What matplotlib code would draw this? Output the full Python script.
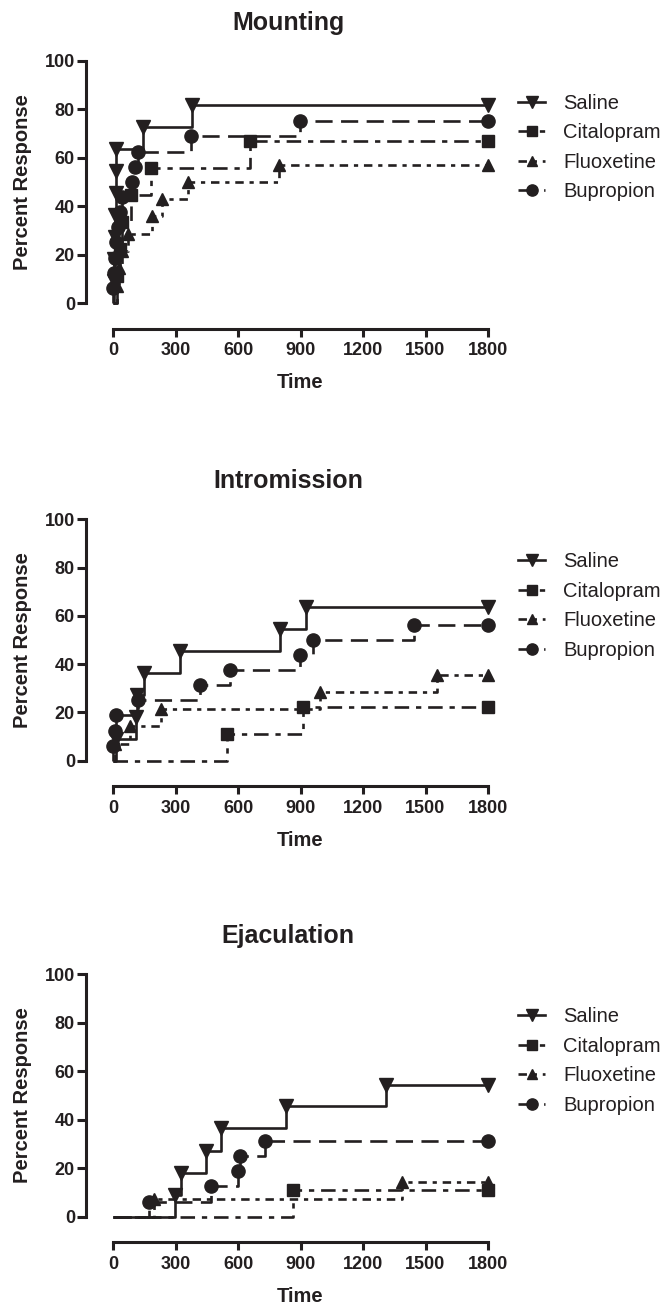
import matplotlib
matplotlib.use("Agg")
import matplotlib.pyplot as plt

plt.rcParams['font.family'] = ['Liberation Sans', 'DejaVu Sans']

INK = '#231f20'

groups = ["Saline", "Citalopram", "Fluoxetine", "Bupropion"]
panel_titles = ["Mounting", "Intromission", "Ejaculation"]
x_ticks = [0, 300, 600, 900, 1200, 1500, 1800]
y_ticks = [0, 20, 40, 60, 80, 100]
t_end = 1800

# Mounting: event times (s) and cumulative percent responding
mount_saline_t = [4, 6, 8, 10, 12, 13, 15, 144, 381]
mount_saline_p = [9.1, 18.2, 27.3, 36.4, 45.5, 54.5, 63.6, 72.7, 81.8]
mount_cital_t = [20, 35, 45, 88, 182, 656]
mount_cital_p = [11.1, 22.2, 33.3, 44.4, 55.6, 66.7]
mount_fluox_t = [18, 28, 45, 73, 186, 236, 362, 795]
mount_fluox_p = [7.1, 14.3, 21.4, 28.6, 35.7, 42.9, 50.0, 57.1]
mount_bupro_t = [2, 5, 8, 14, 25, 35, 45, 92, 104, 118, 372, 897]
mount_bupro_p = [6.25, 12.5, 18.75, 25.0, 31.25, 37.5, 43.75, 50.0, 56.25, 62.5, 68.75, 75.0]

# Intromission
intro_saline_t = [12, 110, 115, 148, 322, 803, 928]
intro_saline_p = [9.1, 18.2, 27.3, 36.4, 45.5, 54.5, 63.6]
intro_cital_t = [545, 914]
intro_cital_p = [11.1, 22.2]
intro_fluox_t = [10, 80, 232, 994, 1555]
intro_fluox_p = [7.1, 14.3, 21.4, 28.6, 35.7]
intro_bupro_t = [2, 8, 16, 120, 417, 561, 898, 959, 1443]
intro_bupro_p = [6.25, 12.5, 18.75, 25.0, 31.25, 37.5, 43.75, 50.0, 56.25]

# Ejaculation
ejac_saline_t = [296, 325, 448, 517, 832, 1309]
ejac_saline_p = [9.1, 18.2, 27.3, 36.4, 45.5, 54.5]
ejac_cital_t = [862]
ejac_cital_p = [11.1]
ejac_fluox_t = [195, 1387]
ejac_fluox_p = [7.1, 14.3]
ejac_bupro_t = [173, 472, 600, 608, 731]
ejac_bupro_p = [6.25, 12.5, 18.75, 25.0, 31.25]

panels = [
    [(mount_saline_t, mount_saline_p), (mount_cital_t, mount_cital_p),
     (mount_fluox_t, mount_fluox_p), (mount_bupro_t, mount_bupro_p)],
    [(intro_saline_t, intro_saline_p), (intro_cital_t, intro_cital_p),
     (intro_fluox_t, intro_fluox_p), (intro_bupro_t, intro_bupro_p)],
    [(ejac_saline_t, ejac_saline_p), (ejac_cital_t, ejac_cital_p),
     (ejac_fluox_t, ejac_fluox_p), (ejac_bupro_t, ejac_bupro_p)],
]

styles = [
    dict(marker='v', ms=9.5, dashes=None),
    dict(marker='s', ms=8.5, dashes=(5.5, 2.6, 2.0, 2.6)),
    dict(marker='^', ms=9.0, dashes=(3.2, 2.2, 1.6, 2.2)),
    dict(marker='o', ms=9.5, dashes=(6.5, 3.2)),
]

W, H = 668, 1307
fig = plt.figure(figsize=(W / 100, H / 100), dpi=100)

# axes boxes in pixels: (left, top, right, bottom)
boxes = [(113, 60.7, 488, 303), (113, 519.3, 488, 760.7), (113, 974.3, 488, 1216.7)]

for k, (box, series) in enumerate(zip(boxes, panels)):
    l, t, r, b = box
    ax = fig.add_axes([l / W, 1 - b / H, (r - l) / W, (b - t) / H])

    # detached axis lines (set before styling ticks, since this resets them)
    for s in ['top', 'right']:
        ax.spines[s].set_visible(False)
    ax.spines['left'].set_position(('outward', 19.4))
    ax.spines['bottom'].set_position(('outward', 18.5))
    for s in ['left', 'bottom']:
        ax.spines[s].set_linewidth(2.2)
        ax.spines[s].set_color(INK)

    handles = []
    for (tt, pp), st, name in zip(series, styles, groups):
        xs = [0] + list(tt) + [t_end]
        ys = [0] + list(pp) + [pp[-1]]
        line, = ax.step(xs, ys, where='post', color=INK, lw=1.9,
                        solid_capstyle='butt', dash_capstyle='butt', clip_on=False)
        if st['dashes'] is not None:
            line.set_dashes(st['dashes'])
        mx = list(tt) + [t_end]
        my = list(pp) + [pp[-1]]
        ax.plot(mx, my, ls='none', marker=st['marker'], ms=st['ms'],
                color=INK, mec=INK, clip_on=False, zorder=3)
        h, = ax.plot([], [], color=INK, lw=1.9, marker=st['marker'],
                     ms=st['ms'] * 0.85, mec=INK)
        if st['dashes'] is not None:
            h.set_dashes(st['dashes'])
        handles.append(h)

    ax.set_xlim(0, 1800)
    ax.set_ylim(0, 100)
    ax.set_xticks(x_ticks)
    ax.set_yticks(y_ticks)
    ax.set_xticklabels([str(v) for v in x_ticks], fontsize=13, fontweight='bold', color=INK)
    ax.set_yticklabels([str(v) for v in y_ticks], fontsize=13, fontweight='bold', color=INK)
    ax.tick_params(axis='y', direction='out', length=6.5, width=2.2, pad=1.5, color=INK)
    ax.tick_params(axis='x', direction='out', length=5.5, width=2.2, pad=4, color=INK)
    ax.patch.set_visible(False)

    # titles and axis labels
    fig.text(288 / W, 1 - (t - 31) / H, panel_titles[k], ha='center', va='baseline',
             fontsize=18, fontweight='bold', color=INK)
    fig.text(300 / W, 1 - (b + 25 + 60) / H, "Time", ha='center', va='baseline',
             fontsize=14.5, fontweight='bold', color=INK)
    fig.text(23 / W, 1 - ((t + b) / 2) / H, "Percent Response", ha='center', va='center',
             rotation=90, fontsize=14.5, fontweight='bold', color=INK)

    leg = ax.legend(handles, groups, loc='upper left',
                    bbox_to_anchor=(518 / W, 1 - (t + 33) / H),
                    bbox_transform=fig.transFigure, frameon=False,
                    fontsize=14.5, handlelength=1.35, handletextpad=0.9,
                    labelspacing=0.52, borderpad=0, borderaxespad=0, numpoints=1)
    for txt in leg.get_texts():
        txt.set_color(INK)

fig.savefig("out.png", dpi=100)
